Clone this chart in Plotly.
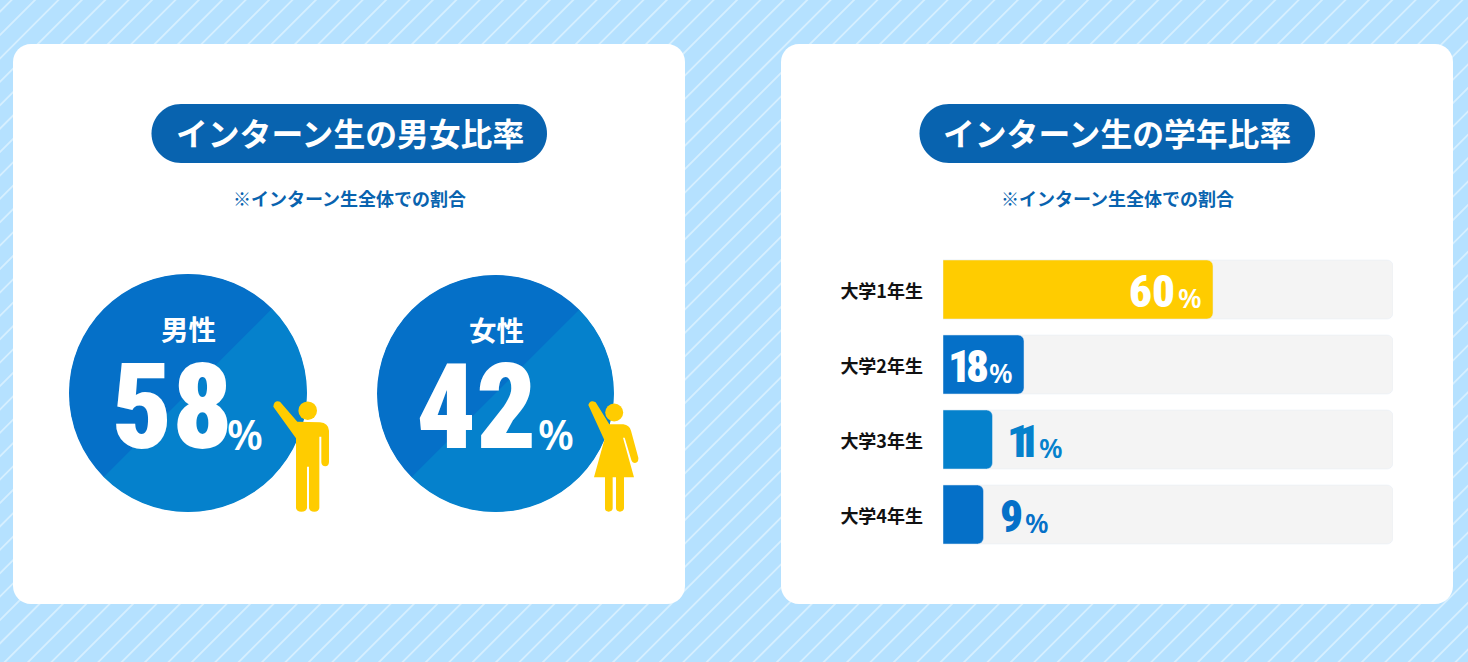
import plotly.graph_objects as go

W, H = 1468, 662

grades = ["大学1年生", "大学2年生", "大学3年生", "大学4年生"]
grade_values = [60, 18, 11, 9]
grade_track = [100, 100, 100, 100]
grade_colors = ["#FFCC00", "#0570C8", "#0581CC", "#0570C8"]

genders = ["男性", "女性"]
gender_values = [58, 42]
circle_split = [1, 1]

titles = ["インターン生の男女比率", "インターン生の学年比率"]
subtitle = "※インターン生全体での割合"

BG, STRIPE = "#B5E1FF", "#D6EFFF"
PILL, DARK, LIGHT, YELLOW, TRACK = "#0863AF", "#0570C8", "#0581CC", "#FFCC00", "#F4F4F4"
JP = "Noto Sans CJK JP"
NUM = "Roboto Condensed"


def px(x):
    return x / W


def py(y):
    return 1 - y / H


def rrect(x0, y0, x1, y1, r):
    k = r * 0.448
    a = lambda x, y: f"{px(x):.5f},{py(y):.5f}"
    return (
        f"M {a(x0 + r, y0)} L {a(x1 - r, y0)} C {a(x1 - k, y0)} {a(x1, y0 + k)} {a(x1, y0 + r)} "
        f"L {a(x1, y1 - r)} C {a(x1, y1 - k)} {a(x1 - k, y1)} {a(x1 - r, y1)} "
        f"L {a(x0 + r, y1)} C {a(x0 + k, y1)} {a(x0, y1 - k)} {a(x0, y1 - r)} "
        f"L {a(x0, y0 + r)} C {a(x0, y0 + k)} {a(x0 + k, y0)} {a(x0 + r, y0)} Z"
    )


def icon(origin_x, origin_y, text):
    # outline is sketched on a 3x grid around the figure's corner
    out, is_x = [], True
    for t in text.split():
        if t.isalpha():
            out.append(t)
        elif is_x:
            out.append(f"{px(origin_x + float(t) / 3):.5f}")
            is_x = False
        else:
            out.append(f"{py(origin_y + float(t) / 3):.5f}")
            is_x = True
    return " ".join(out)


shapes = []

# striped backdrop
stripes = []
for k in range(-3, 95):
    c = 35 + 23.4 * k
    stripes.append(f"M {px(c + 20):.5f},{py(-20):.5f} L {px(c - 700):.5f},{py(700):.5f}")
shapes.append(dict(type="path", path=" ".join(stripes), xref="paper", yref="paper",
                   line=dict(color=STRIPE, width=1.8), layer="below"))

# cards and title pills
for x0, x1, p0, p1 in [(13, 685, 151.5, 547), (781, 1453, 919.5, 1315)]:
    shapes.append(dict(type="path", path=rrect(x0, 44, x1, 604, 18), xref="paper", yref="paper",
                       fillcolor="white", line=dict(width=0), layer="below"))
    shapes.append(dict(type="path", path=rrect(p0, 104, p1, 163, 29.5), xref="paper", yref="paper",
                       fillcolor=PILL, line=dict(width=0), layer="below"))

# solid discs under the pies hide the seam between the two halves
for x0, y0, x1, y1 in [(69.5, 274.5, 306.5, 511.5), (377.5, 275.5, 613.5, 511.5)]:
    shapes.append(dict(type="circle", xref="paper", yref="paper", x0=px(x0), x1=px(x1), y0=py(y1), y1=py(y0),
                       fillcolor=LIGHT, line=dict(width=0), layer="below"))

# figures beside the circles
man = ("M 640 425 Q 642 405 660 410 L 712 470 L 780 472 Q 805 474 807 497 L 807 592 Q 806 604 796 604 "
       "Q 785 604 784 592 L 784 515 L 778 515 L 778 728 Q 777 740 763 740 Q 748 740 747 728 L 747 605 "
       "L 741 605 L 741 728 Q 740 740 724 740 Q 709 740 708 728 L 708 520 Z")
woman = ("M 655 420 Q 660 402 677 412 L 718 478 L 760 478 Q 778 480 783 497 L 805 578 Q 806 592 795 594 "
         "Q 787 594 784 585 L 764 518 L 759 518 L 792 637 L 762 637 L 762 730 Q 760 740 750 740 Q 739 740 738 730 "
         "L 738 637 L 728 637 L 728 730 Q 727 740 716 740 Q 705 740 705 730 L 705 637 L 672 637 L 703 525 Z")
shapes.append(dict(type="path", path=icon(60, 265, man), xref="paper", yref="paper",
                   fillcolor=YELLOW, line=dict(width=0), layer="above"))
shapes.append(dict(type="path", path=icon(370, 265, woman), xref="paper", yref="paper",
                   fillcolor=YELLOW, line=dict(width=0), layer="above"))
for cx, cy, r in [(307.7, 410.7, 9.3), (614.2, 412.5, 9.0)]:
    shapes.append(dict(type="circle", xref="paper", yref="paper", x0=px(cx - r), x1=px(cx + r),
                       y0=py(cy + r), y1=py(cy - r), fillcolor=YELLOW, line=dict(width=0), layer="above"))

annotations = []


def note(text, x, y, size, color, family=JP, weight=700, anchor="center"):
    annotations.append(dict(text=text, x=px(x), y=py(y), xref="paper", yref="paper", showarrow=False,
                            xanchor=anchor, yanchor="middle", borderpad=0,
                            font=dict(family=family, size=size, color=color, weight=weight)))


for title, cx in zip(titles, [349.5, 1117]):
    note(title, cx, 132, 31.8, "white")
    note(subtitle, cx, 198, 18, PILL)

for name, value, cx, cy, num_left, pct_left in zip(
    genders, gender_values, [188.5, 496], [328, 329], [111, 415], [225.5, 537]
):
    note(name, cx, cy, 27.5, "white", family=JP, weight=700)
    note(str(value), num_left, 408, 118, "white", family=NUM, weight=900, anchor="left")
    note("%", pct_left, 434, 41, "white", family="Noto Sans", weight=600, anchor="left")

fig = go.Figure()

for (x0, y0, x1, y1), vals, cols in [(((69, 274, 307, 512)), circle_split, [DARK, LIGHT]),
                                     (((377, 275, 614, 512)), circle_split, [DARK, LIGHT])]:
    fig.add_trace(go.Pie(values=vals, sort=False, direction="clockwise", rotation=225,
                         marker=dict(colors=cols, line=dict(width=0)), textinfo="none",
                         hoverinfo="skip", showlegend=False,
                         domain=dict(x=[px(x0), px(x1)], y=[py(y1), py(y0)])))

fig.add_trace(go.Bar(y=grades, x=grade_track, orientation="h", marker=dict(color=TRACK, cornerradius=6),
                     hoverinfo="skip", showlegend=False))
fig.add_trace(go.Bar(y=grades, x=grade_values, orientation="h", xaxis="x2", yaxis="y2",
                     marker=dict(color=grade_colors, cornerradius=6),
                     hoverinfo="skip", showlegend=False))

# value labels sit inside the longer bars and just past the shorter ones
num_shifts = {60: -36, 18: -33, 11: -1, 9: 14}
pct_shifts = {60: -37, 18: -37.5, 11: 44, 9: 39.5}
for grade, value in zip(grades, grade_values):
    inside = value >= 18
    color = "white" if inside else (LIGHT if value == 11 else DARK)
    annotations.append(dict(text=str(value), x=value, y=grade, xref="x", yref="y", showarrow=False,
                            xanchor="right" if inside else "left", yanchor="middle",
                            xshift=num_shifts[value], yshift=-2,
                            font=dict(family=NUM, size=45, color=color, weight=900)))
    annotations.append(dict(text="%", x=value, y=grade, xref="x", yref="y", showarrow=False,
                            xanchor="left", yanchor="middle", xshift=pct_shifts[value], yshift=-8,
                            font=dict(family="Noto Sans", size=27, color=color, weight=600)))

axis_y = dict(domain=[py(552), py(252)], autorange="reversed", categoryorder="array", categoryarray=grades,
              showgrid=False, zeroline=False, showline=False, fixedrange=True)

fig.update_layout(
    width=W, height=H, margin=dict(l=0, r=0, t=0, b=0, pad=0, autoexpand=False),
    paper_bgcolor=BG, plot_bgcolor="rgba(0,0,0,0)",
    barmode="overlay", bargap=1 - 59 / 75,
    shapes=shapes, annotations=annotations,
    xaxis=dict(domain=[px(943), px(1393)], range=[0, 100], visible=False, fixedrange=True),
    yaxis=dict(**axis_y, ticks="", ticklabelstandoff=19, ticklabelshift=-2,
               tickfont=dict(family=JP, size=18, color="#111111", weight=700)),
    xaxis2=dict(overlaying="x", range=[0, 100], visible=False, fixedrange=True),
    yaxis2=dict(overlaying="y", autorange="reversed", categoryorder="array", categoryarray=grades,
                showticklabels=False, showgrid=False, zeroline=False, showline=False, fixedrange=True),
)

# the two-digit labels with a "1" are set tighter, as the reference's numerals are
tighten = """
document.body.style.margin='0';document.documentElement.style.overflow='hidden';
document.querySelectorAll('.annotation-text').forEach(function(t){
  var s=t.textContent;
  if(s==='11'){t.style.letterSpacing='-13px';}
  if(s==='18'){t.style.letterSpacing='-5px';}
});
"""
fig.write_html("out.html", config=dict(displayModeBar=False), post_script=tighten)
